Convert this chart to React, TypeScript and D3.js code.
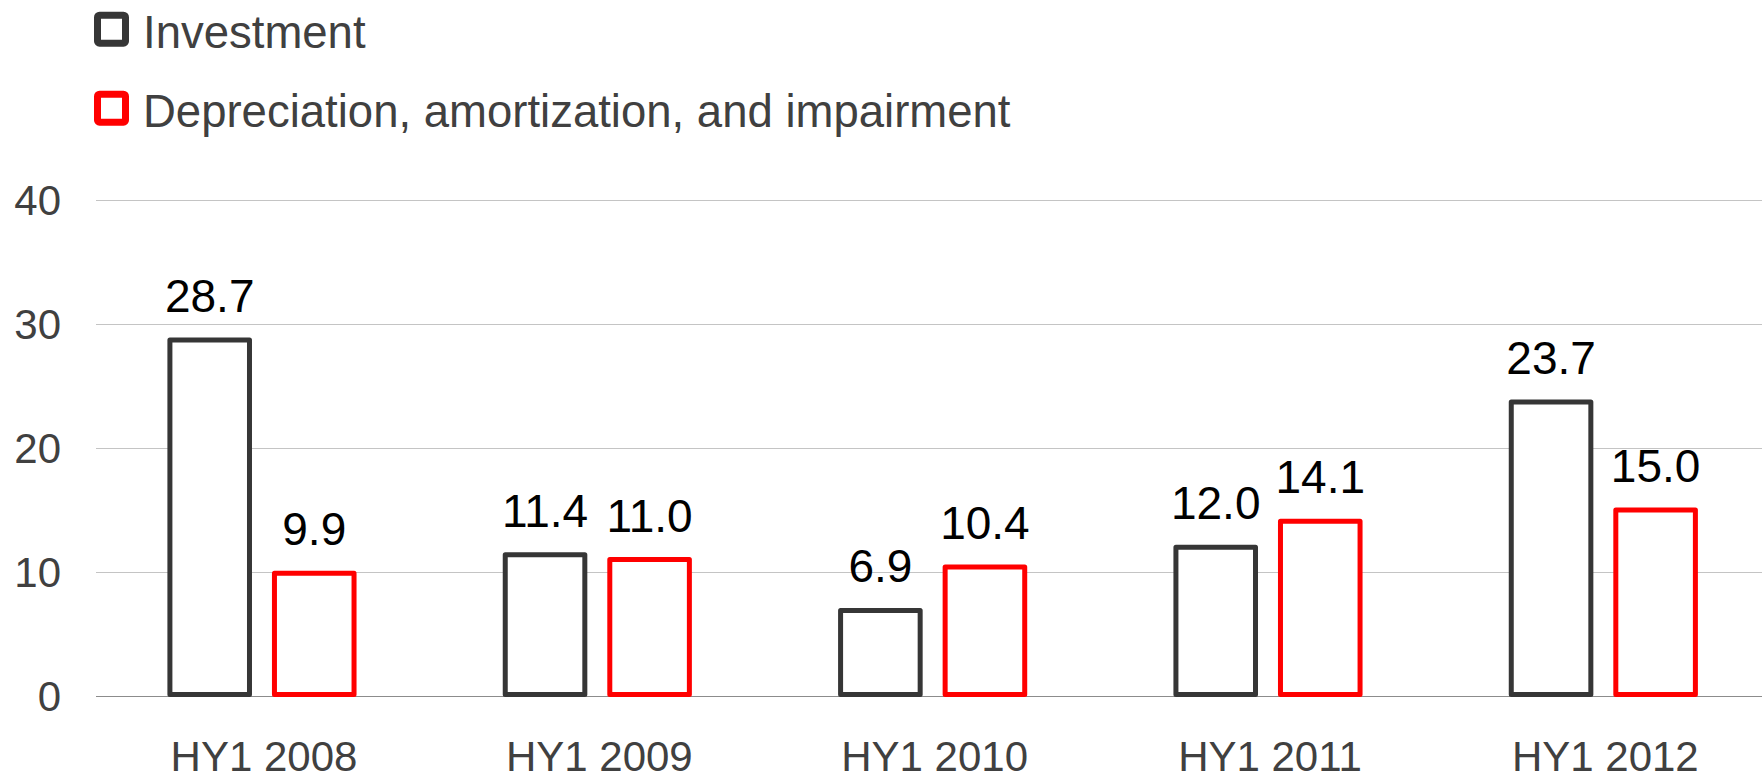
import React, { useEffect } from 'react';
import * as d3 from 'd3';

const categories = ['HY1 2008', 'HY1 2009', 'HY1 2010', 'HY1 2011', 'HY1 2012'];
const investment = [28.7, 11.4, 6.9, 12.0, 23.7];
const depreciation = [9.9, 11.0, 10.4, 14.1, 15.0];
const yTicks = [0, 10, 20, 30, 40];
const seriesNames = ['Investment', 'Depreciation, amortization, and impairment'];
const seriesColors = ['#363636', '#ff0000'];

const width = 1762;
const height = 777;
const font = '"Liberation Sans", Arial, sans-serif';

const App: React.FC = () => {
    useEffect(() => {
        document.body.style.margin = '0';
    }, []);

    const y = d3.scaleLinear().domain([0, 40]).range([696, 200]);

    // group band: outer bars span ~189px of a 335px step
    const x0 = d3.scaleBand<string>()
        .domain(categories)
        .range([94.3, 1771])
        .paddingInner(0.436)
        .paddingOuter(0.218);

    const x1 = d3.scaleBand<number>()
        .domain([0, 1])
        .range([0, x0.bandwidth()])
        .paddingInner(0.191);

    const series = [investment, depreciation];
    const sw = 5;

    return (
        <svg width={width} height={height} style={{ display: 'block', background: '#fff' }}>
            {/* legend */}
            {seriesNames.map((name, i) => (
                <g key={name} transform={`translate(0, ${i * 79})`}>
                    <rect x={97.5} y={15.2} width={28} height={28} fill="#fff"
                        stroke={seriesColors[i]} strokeWidth={7} rx={2} />
                    <text x={143} y={48.3} fontFamily={font} fontSize={45.5} fill="#404040">{name}</text>
                </g>
            ))}

            {/* gridlines */}
            {yTicks.map(t => (
                <g key={t}>
                    <line x1={96} x2={1762} y1={Math.round(y(t)) + 0.5} y2={Math.round(y(t)) + 0.5}
                        stroke={t === 0 ? '#8c8c8c' : '#c4c4c4'} strokeWidth={1} />
                    <text x={61} y={y(t) + 15} textAnchor="end" fontFamily={font} fontSize={42} fill="#404040">{t}</text>
                </g>
            ))}

            {/* bars */}
            {categories.map((c, ci) => (
                <g key={c} transform={`translate(${x0(c)}, 0)`}>
                    {series.map((s, si) => {
                        const v = s[ci];
                        const bx = (x1(si) as number) + sw / 2;
                        const bw = x1.bandwidth() - sw;
                        return (
                            <g key={si}>
                                <rect x={bx} y={y(v)} width={bw} height={y(0) - y(v) - sw / 2 + 1}
                                    fill="#fff" stroke={seriesColors[si]} strokeWidth={sw}
                                    strokeLinejoin="round" />
                                <text x={bx + bw / 2} y={y(v) - 28} textAnchor="middle"
                                    fontFamily={font} fontSize={46} fill="#000">{v.toFixed(1)}</text>
                            </g>
                        );
                    })}
                    <text x={x0.bandwidth() / 2 + 2} y={771} textAnchor="middle"
                        fontFamily={font} fontSize={42} fill="#404040">{c}</text>
                </g>
            ))}
        </svg>
    );
};

export default App;
